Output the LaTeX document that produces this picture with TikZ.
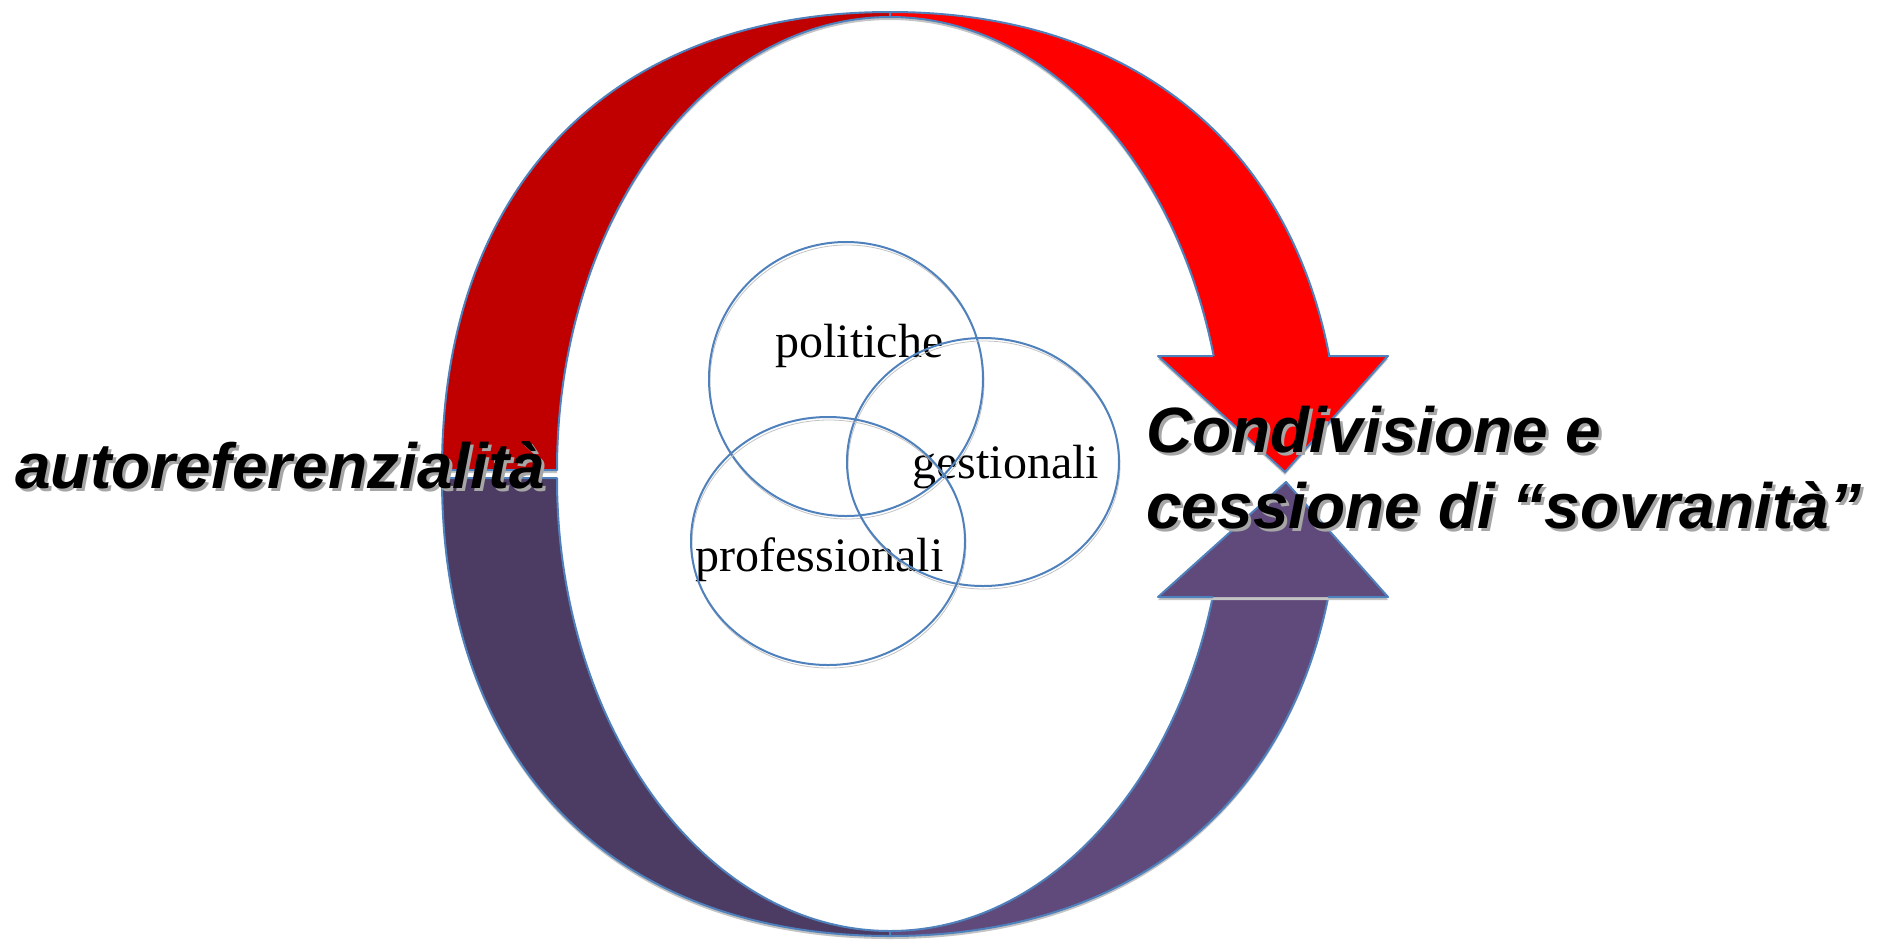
\documentclass[tikz,border=0pt]{standalone}
\usepackage{fontspec}
\setmainfont{Liberation Serif}
\newfontfamily\headfont{Liberation Sans}
\definecolor{darkred}{HTML}{C00000}
\definecolor{brightred}{HTML}{FF0000}
\definecolor{darkplum}{HTML}{4C3B63}
\definecolor{plum}{HTML}{5F4A7B}
\definecolor{edgeblue}{HTML}{4F81BD}
\definecolor{shadowgray}{HTML}{C4C4C4}
\begin{document}
\begin{tikzpicture}[x=0.5pt,y=-0.5pt,
    band/.style={draw=edgeblue, line width=1pt, line join=round,
      preaction={fill=shadowgray, transform canvas={shift={(0,3)}}}},
    headedge/.style={draw=edgeblue, line width=1pt, line join=round},
    ring/.style={draw=edgeblue, line width=1pt,
      preaction={draw=shadowgray, transform canvas={shift={(1,3)}}}},
    bigtext/.style={inner sep=0pt, anchor=base west,
      font=\headfont\bfseries\itshape\fontsize{32}{38}\selectfont},
    bigshadow/.style={bigtext, text=black!35},
    setname/.style={inner sep=0pt, anchor=base west, font=\fontsize{24}{28}\selectfont}]
    \path[use as bounding box, fill=white] (0,0) rectangle (1881,944);
    \path[band, fill=darkred] (442,470) .. controls (442,186) and (612,12) .. (890,12)
        -- (890,17) .. controls (706,17) and (557,220) .. (557,470) -- cycle;
    \path[band, fill=darkplum] (442,478) .. controls (442,762) and (612,936) .. (890,936)
        -- (890,931) .. controls (706,931) and (557,728) .. (557,478) -- cycle;
    \begin{scope}
        \clip (870,0) rectangle (1400,360);
        \path[band, fill=brightred] (890,12) .. controls (1169,12) and (1340,188) .. (1340,474)
            -- (1225,474) .. controls (1225,222) and (1075,17) .. (890,17) -- cycle;
    \end{scope}
    \begin{scope}
        \clip (870,593) rectangle (1400,944);
        \path[band, fill=plum] (890,936) .. controls (1169,936) and (1340,760) .. (1340,474)
            -- (1225,474) .. controls (1225,726) and (1075,931) .. (890,931) -- cycle;
    \end{scope}
    \coordinate (redtip) at (1285,472);
    \coordinate (plumtip) at (1286,482);
    \fill[brightred, preaction={fill=shadowgray, transform canvas={shift={(0,3)}}}]
        (1158,356) -- (1388,356) -- (redtip) -- cycle;
    \draw[headedge] (1213,356) -- (1158,356) -- (redtip) -- (1388,356) -- (1328,356);
    \fill[plum, preaction={fill=shadowgray, transform canvas={shift={(0,3)}}}]
        (1158,597) -- (1388,597) -- (plumtip) -- cycle;
    \draw[headedge] (1213,597) -- (1158,597) -- (plumtip) -- (1388,597) -- (1328,597);
    \node[bigshadow] (autorefshadow) at (18,491) {autoreferenzialità};
    \node[bigtext] (autoref) at (15,488) {autoreferenzialità};
    \node[bigshadow] (condashadow) at (1149,455) {Condivisione e};
    \node[bigtext] (conda) at (1146,452) {Condivisione e};
    \node[bigshadow] (condbshadow) at (1149,531) {cessione di “sovranità”};
    \node[bigtext] (condb) at (1146,528) {cessione di “sovranità”};
    \node[setname] (pol) at (775,357) {politiche};
    \node[setname] (ges) at (912,478) {gestionali};
    \node[setname] (prof) at (695,571) {professionali};
    \draw[ring] (846,379) circle [x radius=137, y radius=137];
    \draw[ring] (983,462) circle [x radius=136, y radius=124];
    \draw[ring] (828,541) circle [x radius=137, y radius=124];
\end{tikzpicture}
\end{document}
